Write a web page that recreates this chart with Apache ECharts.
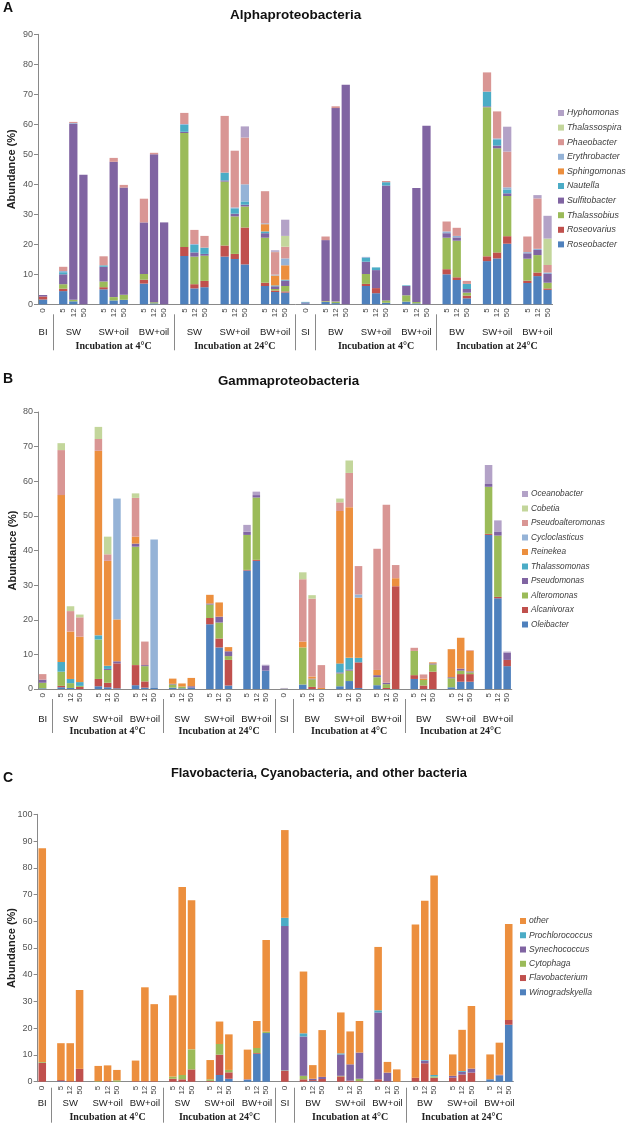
<!DOCTYPE html>
<html><head><meta charset="utf-8">
<script src="https://cdn.jsdelivr.net/npm/echarts@6/dist/echarts.min.js"></script>
<style>html,body{margin:0;padding:0;background:#fff}#c{width:630px;height:1132px}</style>
</head><body><div id="c"></div>
<script>
// ---- categories ----
const groupNames = ['BI','SW','SW+oil','BW+oil','SW','SW+oil','BW+oil','SI','BW','SW+oil','BW+oil','BW','SW+oil','BW+oil'];
const groupDays = [['0'],['5','12','50'],['5','12','50'],['5','12','50'],['5','12','50'],['5','12','50'],['5','12','50'],
                   ['0'],['5','12','50'],['5','12','50'],['5','12','50'],['5','12','50'],['5','12','50'],['5','12','50']];
const sectionNames = ['Incubation at 4°C','Incubation at 24°C','Incubation at 4°C','Incubation at 24°C'];
const sectionGroups = [[1,2,3],[4,5,6],[8,9,10],[11,12,13]];
const separatorBefore = [1,4,7,8,11];

// ---- A: Alphaproteobacteria (38 samples each) ----
const alphaNames = ['Roseobacter','Roseovarius','Thalassobius','Sulfitobacter','Nautella','Sphingomonas','Erythrobacter','Phaeobacter','Thalassospira','Hyphomonas'];
const aRoseobacter   = [1.6, 4.4,1.0,0, 5.0,1.3,1.5, 6.9,0.3,0, 16.1,5.3,5.7, 15.9,15.1,13.3, 6.1,4.1,3.9, 0.3, 0.8,0.4,0, 6.1,3.7,0.5, 0.9,0.3,0, 10.0,8.1,2.0, 14.4,15.3,20.2, 7.1,9.4,4.8];
const aRoseovarius   = [1.0, 0.8,0,0, 0.7,0,0, 1.3,0,0, 3.0,1.4,2.1, 3.7,1.7,12.3, 1.1,0.5,0.4, 0, 0.1,0,0, 0.7,1.7,0, 0,0,0, 1.7,0.9,0.9, 1.6,2.0,2.5, 0.8,1.2,0.5];
const aThalassobius  = [0, 1.5,0.5,0, 1.9,1.1,1.7, 1.9,0.4,0, 38.0,9.2,8.4, 21.3,12.5,7.0, 15.0,0.5,1.8, 0, 0.2,0.5,0, 3.3,0,0.8, 2.1,0.5,0, 10.5,12.2,1.0, 49.7,34.7,13.4, 7.3,5.8,1.9];
const aSulfitobacter = [0.5, 3.3,58.6,43.2, 4.9,45.1,35.7, 17.2,49.3,27.3, 0.4,1.4,0.6, 0.4,0.9,0.6, 1.5,0.9,1.8, 0.3, 20.3,64.5,73.2, 4.1,6.0,38.3, 3.1,38.0,59.5, 1.5,1.1,1.2, 0.3,0.9,0.9, 1.8,1.7,2.9];
const aNautella      = [0, 0.7,0,0, 0.5,0,0, 0,0,0, 2.3,2.5,2.1, 2.6,1.8,1.1, 0.6,0.3,0.3, 0.2, 0,0,0, 1.3,0.9,1.1, 0.2,0,0, 0,0,1.7, 4.9,2.1,1.3, 0,0,0];
const aSphingomonas  = [0, 0,0,0, 0,0,0, 0,0,0, 0,0,0, 0,0,0, 2.4,3.3,4.8, 0, 0,0,0, 0,0,0, 0,0,0, 0,0,0, 0,0,0, 0,0,0];
const aErythrobacter = [0, 0.4,0.3,0, 0,0,0, 0,0,0, 0.3,0.3,0, 0,0.3,5.7, 0.3,0.3,2.3, 0, 0,0,0, 0.3,0,0, 0,0,0, 0.6,0.5,0, 0,0.3,0.7, 0.4,0.4,0.5];
const aPhaeobacter   = [0, 1.4,0.4,0, 3.0,1.3,0.9, 7.9,0.5,0, 3.7,4.7,3.9, 18.9,18.9,15.6, 10.7,7.5,3.9, 0, 1.2,0.6,0, 0,0,0.4, 0,0,0, 3.3,2.7,1.0, 6.4,9.0,11.9, 5.2,16.8,2.5];
const aThalassospira = [0, 0,0,0, 0,0,0, 0,0,0, 0,0,0, 0,0,0, 0,0.1,3.6, 0, 0,0,0, 0,0,0, 0,0,0, 0,0,0, 0,0,0, 0,0,8.8];
const aHyphomonas    = [0, 0,0,0, 0,0,0, 0,0,0, 0,0,0, 0,0,3.7, 0,0.5,5.4, 0, 0,0,0, 0,0,0, 0,0,0, 0,0,0, 0,0,8.3, 0,1.1,7.6];
const alphaValues = [aRoseobacter,aRoseovarius,aThalassobius,aSulfitobacter,aNautella,aSphingomonas,aErythrobacter,aPhaeobacter,aThalassospira,aHyphomonas];

// ---- B: Gammaproteobacteria ----
const gammaNames = ['Oleibacter','Alcanivorax','Alteromonas','Pseudomonas','Thalassomonas','Reinekea','Cycloclasticus','Pseudoalteromonas','Cobetia','Oceanobacter'];
const gOleibacter    = [0.2, 0.5,0.3,0, 0.8,0.5,0.2, 1.1,0.4,0.3, 0.4,0.2,0.4, 18.7,12.0,1.0, 34.2,37.0,5.3, 0, 1.3,0,0, 0.8,2.3,0.3, 1.1,0,0, 2.9,0,0, 0.5,2.1,2.1, 44.5,26.2,6.6];
const gAlcanivorax   = [0, 0.4,0,0.6, 2.1,1.3,7.2, 5.8,1.8,0, 0,0,0, 1.8,2.6,7.4, 0.2,0.3,0, 0, 0,0.6,0, 0,0,7.4, 0,0.3,29.7, 1.1,1.0,5.0, 0,2.2,2.2, 0.3,0.4,1.8];
const gAlteromonas   = [1.6, 4.1,1.4,0.3, 11.4,3.7,0, 34.2,4.4,0, 0.9,0.5,0, 3.9,4.6,1.1, 10.1,18.0,0, 0, 10.7,2.2,0, 3.7,3.0,0, 2.3,1.1,0, 7.0,1.6,2.1, 2.6,1.0,0.5, 13.6,17.7,0];
const gPseudomonas   = [0.9, 0,0,0, 0,0.3,0.6, 0.9,0.3,0, 0.2,0,0.4, 0.3,1.7,1.4, 0.9,0.7,1.5, 0, 0,0.2,0, 0.3,0.3,0, 0.6,0.4,0, 0,0,0.3, 0.3,0.6,0.3, 0.8,1.2,2.1];
const gThalassomonas = [0, 2.8,1.2,1.1, 1.2,0.9,0, 0,0,0, 0,0,0, 0,0,0, 0,0,0, 0, 0,0,0, 2.6,3.4,1.3, 0,0,0, 0,0,0, 0,0,0, 0,0,0];
const gReinekea      = [0, 48.2,13.7,13.1, 53.3,30.3,12.1, 2.0,0,0, 1.5,0.9,2.4, 2.5,4.1,1.2, 0,0,0, 0, 1.7,0.6,0.3, 44.0,43.5,17.4, 1.5,0,2.3, 0,0.4,0.3, 8.1,8.9,5.9, 0,0,0];
const gCycloclasticus= [0, 0,0,0, 0,0,34.9, 0,0,42.9, 0,0,0, 0,0,0, 0,0,0, 0.2, 0,0,0, 0,0,0.9, 0,0,0, 0,0,0, 0,0,0, 0,0,0];
const gPseudoalteromonas = [1.6, 13.0,5.9,5.6, 3.4,1.9,0, 11.2,6.8,0, 0,0,0, 0,0,0, 0,0,0, 0.1, 18.0,22.5,6.6, 2.5,9.9,8.2, 35.0,51.4,3.8, 0.9,1.2,0, 0,0,0.2, 0,0,0];
const gCobetia       = [0, 2.0,1.4,0.8, 3.5,5.1,0, 1.3,0,0, 0,0,0, 0,0,0, 0,0,0, 0, 2.0,1.0,0, 1.1,3.6,0, 0,0,0, 0,0,0, 0,0,0, 0,0,0];
const gOceanobacter  = [0, 0,0,0, 0,0,0, 0,0,0, 0,0,0, 0,0,0, 2.0,1.0,0.2, 0, 0,0,0, 0,0,0, 0,0,0, 0,0,0, 0,0,0, 5.5,3.2,0.3];
const gammaValues = [gOleibacter,gAlcanivorax,gAlteromonas,gPseudomonas,gThalassomonas,gReinekea,gCycloclasticus,gPseudoalteromonas,gCobetia,gOceanobacter];

// ---- C: Flavobacteria, Cyanobacteria, other ----
const otherNames = ['Winogradskyella','Flavobacterium','Cytophaga','Synechococcus','Prochlorococcus','other'];
const cWinogradskyella = [0, 0.2,0,0, 0,0,0, 0,0,0, 0,0,0, 0,2.5,1.1, 0.7,10.4,18.2, 0, 0,0.2,0, 0,0,0, 0,0,0, 0,0,0, 0,0,0, 0.9,2.3,21.3];
const cFlavobacterium  = [7.1, 0.4,0.2,4.8, 0,0.2,0, 0.2,0.2,0.2, 1.1,0.9,4.6, 0.3,7.6,2.4, 0,0.3,0, 4.0, 0.9,0.4,1.0, 2.0,0.4,0.2, 0.9,0.2,0, 1.5,6.9,1.5, 1.5,2.7,3.4, 0,0,1.8];
const cCytophaga       = [0.3, 0,0,0, 0.2,0,0.5, 0,0,0, 0.8,1.6,7.5, 0.6,4.0,0.9, 0,1.9,0.5, 0.2, 1.3,0,0, 0.2,0,0.9, 0,0,0, 0,0,0.5, 0,0,0, 0,0,0];
const cSynechococcus   = [0, 0,0,0, 0,0,0, 0,0,0, 0,0,0, 0,0,0, 0.2,0,0, 54.0, 14.7,0.5,0.8, 8.0,6.1,9.8, 25.0,3.2,0, 0,1.0,0, 0.7,1.0,1.5, 0,0.3,0];
const cProchlorococcus = [0, 0,0,0, 0,0,0, 0,0,0, 0,0,0, 0,0,0, 0,0,0, 3.1, 1.2,0,0, 0.4,0,0, 0.8,0,0, 0,0.2,0.5, 0,0.3,0, 0,0,0];
const cOther           = [79.9, 13.8,14.2,29.5, 5.7,5.9,3.9, 7.7,35.1,28.8, 30.4,70.3,55.8, 7.2,8.4,13.3, 11.1,10.1,34.3, 32.8, 23.1,5.1,17.5, 15.3,12.3,11.8, 23.7,4.0,4.6, 57.3,59.6,74.6, 8.0,15.4,23.4, 9.3,12.0,35.9];
const otherValues = [cWinogradskyella,cFlavobacterium,cCytophaga,cSynechococcus,cProchlorococcus,cOther];

const palette10 = ['#4f81bd','#c0504d','#9bbb59','#8064a2','#4bacc6','#ec8f3e','#95b3d7','#d99694','#c3d69b','#b3a2c7'];
const paletteC = ['#4f81bd','#c0504d','#9bbb59','#8064a2','#4bacc6','#ec8f3e'];

// ---- build slots (groups separated by an empty slot) ----
const slots = [];
groupDays.forEach((days, g) => {
  if (g > 0) slots.push({day:'', g:-1, before:g});
  days.forEach((d, i) => slots.push({day:d, g:g, i:i}));
});
const dayLabels = slots.map(s => s.day);
const groupLabels = slots.map(s => (s.g >= 0 && s.i === Math.floor(groupDays[s.g].length/2)) ? groupNames[s.g] : '');
const sectionLabels = slots.map(() => '');
sectionGroups.forEach((gs, k) => {
  const idx = []; slots.forEach((s, j) => { if (gs.includes(s.g)) idx.push(j); });
  sectionLabels[Math.round((idx[0] + idx[idx.length-1]) / 2)] = sectionNames[k];
});
const sepSlots = new Set();
slots.forEach((s, j) => { if (s.g < 0 && separatorBefore.includes(s.before)) sepSlots.add(j); });
function expand(vals) { let k = 0; return slots.map(s => s.g >= 0 ? vals[k++] : '-'); }

const FONT = 'Liberation Sans';
const axisGray = '#898989';

const panels = [
  {title:'Alphaproteobacteria', letter:'A', names:alphaNames, values:alphaValues, colors:palette10,
   grid:{left:38, right:77.4, top:34.3, bottom:827.7}, max:90, nameGap:21,
   sepOffset:10, sepLen:36, groupMargin:13, secMargin:27, titleSize:13.5, legendSize:8.8,
   titleLeft:230, titleTop:8, letterTop:1, legendLeft:558, legendTop:108, legendGap:4.6, gap:'18%'},
  {title:'Gammaproteobacteria', letter:'B', names:gammaNames, values:gammaValues, colors:palette10,
   grid:{left:38, right:118.2, top:412, bottom:443}, max:80, nameGap:20,
   sepOffset:10, sepLen:34, groupMargin:15, secMargin:27, titleSize:13.3, legendSize:8.3,
   titleLeft:218, titleTop:375, letterTop:372, legendLeft:522, legendTop:489, legendGap:4.5, gap:'19%'},
  {title:'Flavobacteria, Cyanobacteria, and other bacteria', letter:'C', names:otherNames, values:otherValues, colors:paletteC,
   grid:{left:37.6, right:116.6, top:814.3, bottom:50.3}, max:100, nameGap:20,
   sepOffset:6, sepLen:35, groupMargin:11, secMargin:25, titleSize:12.8, legendSize:8.6,
   titleLeft:171, titleTop:767, letterTop:771, legendLeft:520, legendTop:916, legendGap:4.26, gap:'19%'}
];

const option = {
  animation:false, backgroundColor:'#fff',
  title:[], grid:[], xAxis:[], yAxis:[], legend:[], series:[]
};
panels.forEach((p, pi) => {
  option.title.push({text:p.letter, left:3, top:p.letterTop, padding:0,
    textStyle:{fontFamily:FONT, fontSize:14, fontWeight:'bold', color:'#111'}});
  option.title.push({text:p.title, left:p.titleLeft, top:p.titleTop, padding:0,
    textStyle:{fontFamily:FONT, fontSize:p.titleSize, fontWeight:'bold', color:'#111'}});
  option.grid.push(Object.assign({outerBoundsMode:'none', containLabel:false}, p.grid));
  option.xAxis.push({gridIndex:pi, type:'category', data:dayLabels, position:'bottom',
    axisLine:{lineStyle:{color:axisGray}}, axisTick:{length:3, lineStyle:{color:axisGray}},
    axisLabel:{interval:0, rotate:90, fontSize:8, margin:4, color:'#404040', fontFamily:FONT}});
  option.xAxis.push({gridIndex:pi, type:'category', data:groupLabels, position:'bottom', offset:p.sepOffset,
    axisLine:{show:false},
    axisTick:{show:true, alignWithLabel:true, length:p.sepLen, interval:(i) => sepSlots.has(i), lineStyle:{color:axisGray}},
    axisLabel:{interval:0, fontSize:9.5, margin:p.groupMargin, color:'#222', fontFamily:FONT}});
  option.xAxis.push({gridIndex:pi, type:'category', data:sectionLabels, position:'bottom', offset:p.sepOffset,
    axisLine:{show:false}, axisTick:{show:false},
    axisLabel:{interval:0, fontSize:10, fontWeight:'bold', margin:p.secMargin, color:'#222', fontFamily:'Liberation Serif'}});
  option.yAxis.push({gridIndex:pi, type:'value', min:0, max:p.max, interval:10,
    name:'Abundance (%)', nameLocation:'middle', nameGap:p.nameGap, nameRotate:90, nameMoveOverlap:false,
    nameTextStyle:{fontFamily:FONT, fontSize:11, fontWeight:'bold', color:'#222'},
    axisLine:{show:true, lineStyle:{color:axisGray}}, axisTick:{show:true, length:4, lineStyle:{color:axisGray}},
    splitLine:{show:false},
    axisLabel:{fontSize:9, color:'#555', fontFamily:FONT, margin:5}});
  option.legend.push({data:p.names.slice().reverse(), orient:'vertical', left:p.legendLeft, top:p.legendTop,
    padding:0, itemWidth:6, itemHeight:6, itemGap:p.legendGap, icon:'rect', selectedMode:false,
    textStyle:{fontFamily:FONT, fontSize:p.legendSize, fontStyle:'italic', color:'#404040', lineHeight:10, padding:[0,0,0,-2]}});
  p.names.forEach((n, k) => {
    option.series.push({type:'bar', name:n, stack:'s'+pi, xAxisIndex:pi*3, yAxisIndex:pi,
      data:expand(p.values[k]), barCategoryGap:p.gap, itemStyle:{color:p.colors[k]}});
  });
});
const chart = echarts.init(document.getElementById('c'), null, {renderer:'canvas'});
chart.setOption(option);
</script></body></html>
